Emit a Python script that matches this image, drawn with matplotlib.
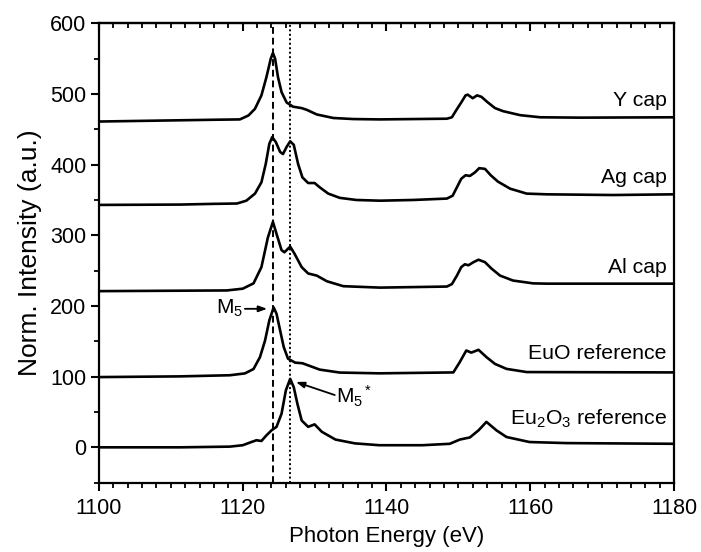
import matplotlib
matplotlib.use("Agg")
import matplotlib.pyplot as plt
from matplotlib.ticker import MultipleLocator

plt.rcParams['font.family'] = ['Liberation Sans', 'DejaVu Sans']
plt.rcParams['mathtext.fontset'] = 'custom'
plt.rcParams['mathtext.rm'] = 'Liberation Sans'
plt.rcParams['mathtext.it'] = 'Liberation Sans'
plt.rcParams['mathtext.default'] = 'regular'

# ---- data ----
y_cap_x = [1100, 1115.9, 1119.6, 1120.8, 1121.7, 1122.6, 1123.3, 1123.9, 1124.2, 1124.5, 1124.9,
           1125.4, 1126.1, 1127.0, 1128.2, 1128.9, 1130.3, 1132.6, 1135.4, 1139.1, 1148.4, 1149.1,
           1149.7, 1150.4, 1151.0, 1151.3, 1152.0, 1152.6, 1153.2, 1154.1, 1155.1, 1156.2, 1158.6,
           1161.4, 1167, 1180]
y_cap_y = [461, 463.5, 464, 469.6, 479, 498, 524, 550, 558, 550, 524,
           502.6, 488, 482, 480, 477.6, 471, 466, 464.5, 464, 465, 467,
           477, 488, 498, 499, 494, 498, 496, 488, 480, 475.7, 470,
           467, 466.5, 467]

ag_cap_x = [1100, 1111.3, 1115.9, 1119.2, 1120.5, 1121.7, 1122.6, 1123.2, 1123.7, 1124.1, 1124.6,
            1125.2, 1125.6, 1126.1, 1126.6, 1127.1, 1127.7, 1128.3, 1129.1, 1130.0, 1130.7, 1131.9,
            1133.5, 1135.8, 1139.1, 1143.7, 1148.4, 1149.2, 1149.8, 1150.4, 1151.0, 1151.6, 1152.3,
            1152.9, 1153.7, 1154.5, 1155.5, 1157.2, 1159.5, 1162.3, 1171.5, 1180]
ag_cap_y = [343, 343.5, 344.5, 345, 349, 359, 375, 401, 429.5, 439, 432,
            418, 415, 425, 433, 428, 401, 382, 374, 374, 368, 359,
            353, 350, 349, 350, 352, 356, 368, 380, 385, 384, 389,
            395, 394, 385, 376, 366, 359, 358, 357, 358]

al_cap_x = [1100, 1117.8, 1120.0, 1121.5, 1122.6, 1123.5, 1124.2, 1124.7, 1125.4, 1125.8, 1126.6,
            1127.2, 1128.2, 1129.1, 1130.3, 1131.7, 1134.0, 1139.1, 1148.4, 1149.1, 1149.8, 1150.4,
            1150.9, 1151.4, 1152.1, 1152.8, 1153.7, 1154.6, 1155.8, 1157.6, 1160.4, 1162.3, 1180]
al_cap_y = [221, 222, 224.5, 232, 255, 297, 319, 302, 279, 276, 284,
            274, 255, 246, 243, 235, 228, 226, 227.5, 231, 243, 255,
            259, 257.6, 262, 265.5, 262, 253, 243, 236, 232, 231.6, 231.6]

euo_x = [1100, 1111.3, 1118.2, 1120.3, 1121.5, 1122.4, 1123.1, 1123.7, 1124.3, 1124.7, 1125.2,
         1125.7, 1126.3, 1127.3, 1128.3, 1129.1, 1130.7, 1133.5, 1139, 1149.3, 1150.2, 1151.1,
         1151.8, 1152.8, 1153.9, 1155.1, 1156.7, 1159.5, 1180]
euo_y = [99.4, 100.4, 102, 104.6, 110.8, 127.7, 151, 179.6, 198, 189, 165.5,
         142, 125.4, 119.8, 119, 116, 110, 105.8, 104.7, 106, 120.7, 137,
         134, 138, 127.7, 118, 111, 106.5, 106]

eu2o3_x = [1100, 1111.3, 1118.2, 1120.0, 1121.2, 1121.9, 1122.6, 1123.3, 1124.0, 1124.7, 1125.4,
           1126.0, 1126.6, 1127.1, 1127.6, 1128.2, 1129.1, 1130.0, 1131.0, 1132.9, 1135.6, 1139,
           1145, 1148.8, 1150.2, 1151.6, 1152.8, 1153.9, 1155.3, 1156.7, 1159.9, 1165, 1180]
eu2o3_y = [0, 0, 1, 3, 7.5, 10, 9, 17, 24, 29, 47.6,
           80.6, 97, 85, 61.8, 38, 29, 32.5, 22, 11, 5.6, 3,
           3, 5, 11, 14, 24, 36, 24, 14.6, 7.5, 6, 5]

series_x = [y_cap_x, ag_cap_x, al_cap_x, euo_x, eu2o3_x]
series_y = [y_cap_y, ag_cap_y, al_cap_y, euo_y, eu2o3_y]
labels = ['Y cap', 'Ag cap', 'Al cap', 'EuO reference', 'Eu$_2$O$_3$ reference']
label_y = [491, 382, 255, 133, 40]

m5_energy = 1124.2
m5star_energy = 1126.6

# ---- figure ----
fig = plt.figure(figsize=(7.01, 5.52), dpi=100)
ax = fig.add_axes([0.1412, 0.1256, 0.8203, 0.8322])

for xs, ys in zip(series_x, series_y):
    ax.plot(xs, ys, color='black', lw=1.9, solid_joinstyle='round', solid_capstyle='round')

ax.axvline(m5_energy, color='black', lw=1.4, ls=(0, (3.5, 2)))
ax.axvline(m5star_energy, color='black', lw=1.4, ls=(0, (1, 1.3)))

for lab, ly in zip(labels, label_y):
    ax.text(1179.0, ly, lab, ha='right', va='center', fontsize=15.3)

# annotations
ax.text(1120.0, 196, 'M$_5$', ha='right', va='center', fontsize=15)
ax.annotate('', xy=(1123.4, 196), xytext=(1120.3, 196),
            arrowprops=dict(arrowstyle='-|>,head_length=0.5,head_width=0.18', color='black', lw=1.3,
                            shrinkA=0, shrinkB=0))
ax.text(1133.0, 72, 'M$_5$$^*$', ha='left', va='center', fontsize=15)
ax.annotate('', xy=(1127.4, 92.5), xytext=(1132.8, 74),
            arrowprops=dict(arrowstyle='-|>,head_length=0.5,head_width=0.18', color='black', lw=1.3,
                            shrinkA=0, shrinkB=0))

ax.set_xlim(1100, 1180)
ax.set_ylim(-50, 600)
ax.xaxis.set_major_locator(MultipleLocator(20))
ax.xaxis.set_minor_locator(MultipleLocator(2))
ax.yaxis.set_major_locator(MultipleLocator(100))
ax.yaxis.set_minor_locator(MultipleLocator(50))

for sp in ax.spines.values():
    sp.set_linewidth(1.6)

ax.tick_params(axis='both', which='major', direction='out', length=6, width=1.5, labelsize=15.5)
ax.tick_params(axis='both', which='minor', direction='out', length=3.5, width=1.3)
ax.tick_params(axis='x', which='major', pad=5)
ax.tick_params(axis='y', which='major', pad=3)

top = ax.secondary_xaxis('top')
top.xaxis.set_major_locator(MultipleLocator(20))
top.xaxis.set_minor_locator(MultipleLocator(2))
top.tick_params(axis='x', which='major', direction='in', length=6, width=1.5, labeltop=False)
top.tick_params(axis='x', which='minor', direction='in', length=3.5, width=1.3)
top.spines['top'].set_linewidth(1.6)

ax.set_xlabel('Photon Energy (eV)', fontsize=16, labelpad=5)
ax.set_ylabel('Norm. Intensity (a.u.)', fontsize=19, labelpad=6)

fig.savefig('out.png', dpi=100)
